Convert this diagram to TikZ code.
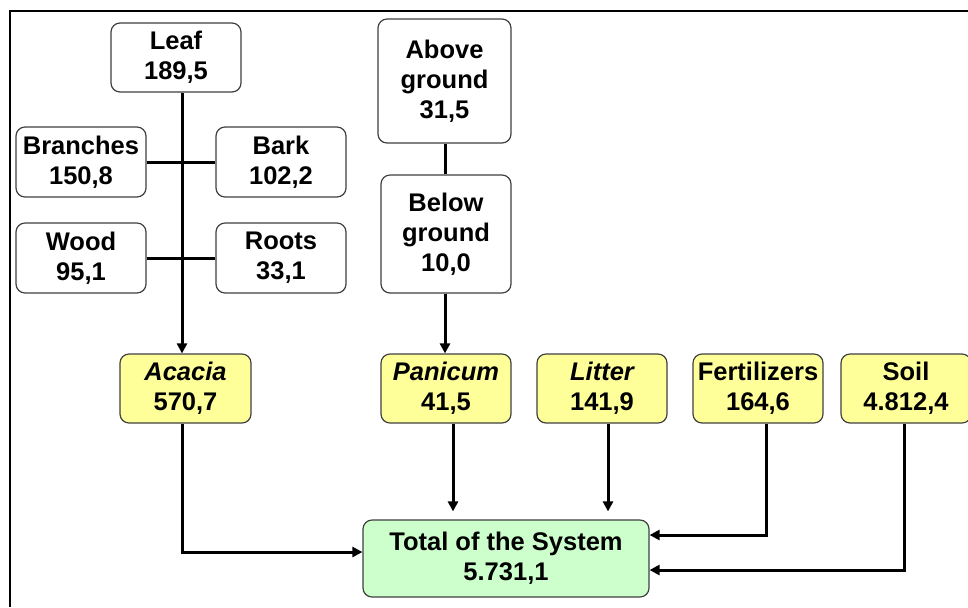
\documentclass[tikz,border=0pt]{standalone}
\usepackage{fontspec}
\setmainfont{Liberation Sans}
\usetikzlibrary{arrows.meta}
\definecolor{boxyellow}{HTML}{FFFF99}
\definecolor{boxgreen}{HTML}{CCFFCC}
\definecolor{boxline}{HTML}{404040}
\tikzset{
  box/.style={draw=boxline, line width=0.6pt, rounded corners=4.5pt, fill=white,
    align=center, inner sep=0pt, minimum width=65pt, minimum height=35pt,
    font=\fontsize{12.75}{15}\selectfont\bfseries},
  ybox/.style={box, fill=boxyellow},
  gbox/.style={box, fill=boxgreen},
  link/.style={line width=1.5pt, black},
  arr/.style={link, -{Triangle[length=5pt,width=5pt]}},
  frameline/.style={line width=1pt, black}
}
\begin{document}
\begin{tikzpicture}[x=0.5pt,y=-0.5pt]
\useasboundingbox (0,0) rectangle (968,607);
\fill[white] (0,0) rectangle (968,607);
\coordinate (fa) at (10,10.5);
\coordinate (fb) at (968,10.5);
\coordinate (fc) at (10,607);
\draw[frameline] (fb) -- (fa) -- (fc);

% tree nodes
\node[box, minimum height=34.5pt] (leaf) at (176,57.5) {Leaf\\189,5};
\node[box] (branches) at (81,162) {Branches\\150,8};
\node[box] (bark) at (281,162) {Bark\\102,2};
\node[box] (wood) at (81,258) {Wood\\95,1};
\node[box] (roots) at (281,258) {Roots\\33,1};
\node[box, minimum width=66.5pt, minimum height=62pt] (above) at (444.5,81) {Above\\ground\\31,5};
\node[box, minimum height=59pt] (below) at (446,234) {Below\\ground\\10,0};

% yellow nodes
\node[ybox, minimum width=65.5pt, minimum height=34.5pt] (acacia) at (185.5,388.5) {\itshape Acacia\\570,7};
\node[ybox, minimum height=34.5pt] (panicum) at (446,388.5) {\itshape Panicum\\41,5};
\node[ybox, minimum height=34.5pt] (litter) at (602,388.5) {\itshape Litter\\141,9};
\node[ybox, minimum height=34.5pt] (fert) at (758,388.5) {Fertilizers\\164,6};
\node[ybox, minimum height=34.5pt] (soil) at (906,388.5) {Soil\\4.812,4};

% total
\node[gbox, minimum width=143pt, minimum height=38.5pt] (total) at (506,558.5) {Total of the System\\5.731,1};

% helper coordinates
\coordinate (tx) at (182,0);
\coordinate (gx) at (445,0);
\coordinate (px) at (453,0);
\coordinate (lx) at (608,0);
\coordinate (fx) at (766,0);
\coordinate (sx) at (904,0);
\coordinate (ya) at (0,552);
\coordinate (yf) at (0,535);
\coordinate (ys) at (0,570);

% tree connectors
\draw[arr] (leaf.south -| tx) -- (acacia.north -| tx);
\draw[link] (branches.east) -- (bark.west);
\draw[link] (wood.east) -- (roots.west);
\draw[link] (above.south -| gx) -- (below.north -| gx);
\draw[arr] (below.south -| gx) -- (panicum.north -| gx);

% to total
\draw[arr] (acacia.south -| tx) |- (ya -| total.west);
\draw[arr, shorten >=4pt] (panicum.south -| px) -- (total.north -| px);
\draw[arr, shorten >=4pt] (litter.south -| lx) -- (total.north -| lx);
\draw[arr] (fert.south -| fx) |- (yf -| total.east);
\draw[arr] (soil.south -| sx) |- (ys -| total.east);
\end{tikzpicture}
\end{document}
